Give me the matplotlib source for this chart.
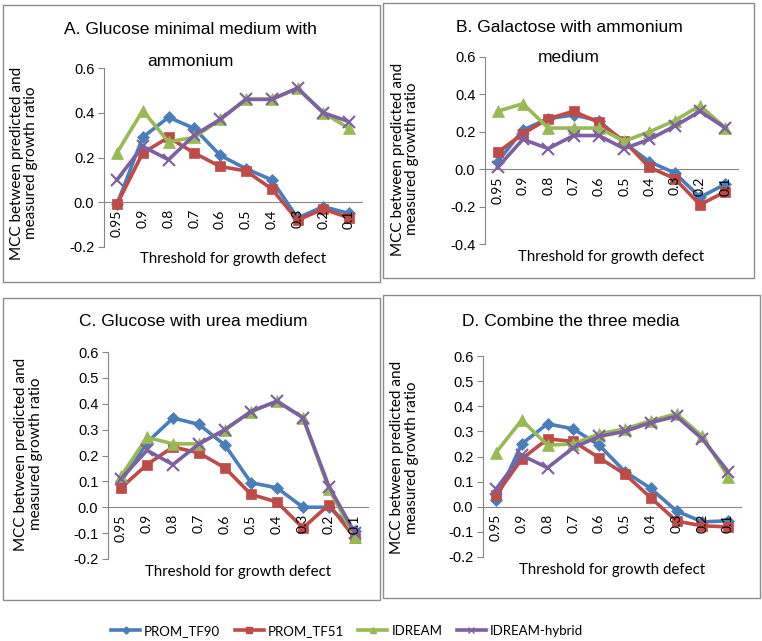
import matplotlib
matplotlib.use("Agg")
import matplotlib.pyplot as plt
from matplotlib.patches import Rectangle
from matplotlib.lines import Line2D

thresholds = ["0.95", "0.9", "0.8", "0.7", "0.6", "0.5", "0.4", "0.3", "0.2", "0.1"]
series_names = ["PROM_TF90", "PROM_TF51", "IDREAM", "IDREAM-hybrid"]

# Panel A: Glucose minimal medium with ammonium
a_prom90 = [-0.01, 0.29, 0.38, 0.33, 0.21, 0.15, 0.10, -0.07, -0.02, -0.05]
a_prom51 = [-0.01, 0.22, 0.29, 0.22, 0.16, 0.14, 0.06, -0.08, -0.03, -0.07]
a_idream = [0.22, 0.41, 0.27, 0.29, 0.37, 0.46, 0.46, 0.51, 0.40, 0.33]
a_hybrid = [0.10, 0.25, 0.19, 0.30, 0.37, 0.46, 0.46, 0.51, 0.40, 0.36]

# Panel B: Galactose with ammonium medium
b_prom90 = [0.04, 0.21, 0.27, 0.29, 0.26, 0.14, 0.04, -0.02, -0.15, -0.08]
b_prom51 = [0.09, 0.19, 0.27, 0.31, 0.25, 0.15, 0.01, -0.05, -0.19, -0.12]
b_idream = [0.31, 0.35, 0.22, 0.22, 0.22, 0.15, 0.20, 0.26, 0.34, 0.22]
b_hybrid = [0.01, 0.16, 0.11, 0.18, 0.18, 0.11, 0.16, 0.23, 0.31, 0.22]

# Panel C: Glucose with urea medium
c_prom90 = [0.10, 0.25, 0.345, 0.32, 0.24, 0.095, 0.075, 0.00, 0.00, -0.09]
c_prom51 = [0.075, 0.165, 0.233, 0.21, 0.152, 0.05, 0.02, -0.08, 0.01, -0.12]
c_idream = [0.12, 0.27, 0.245, 0.245, 0.30, 0.37, 0.41, 0.346, 0.07, -0.115]
c_hybrid = [0.11, 0.22, 0.165, 0.245, 0.30, 0.37, 0.41, 0.346, 0.08, -0.10]

# Panel D: Combine the three media
d_prom90 = [0.027, 0.25, 0.33, 0.31, 0.245, 0.14, 0.073, -0.017, -0.06, -0.056]
d_prom51 = [0.046, 0.19, 0.27, 0.26, 0.195, 0.13, 0.036, -0.057, -0.076, -0.08]
d_idream = [0.215, 0.345, 0.245, 0.25, 0.29, 0.31, 0.342, 0.37, 0.28, 0.12]
d_hybrid = [0.07, 0.205, 0.155, 0.235, 0.28, 0.30, 0.335, 0.36, 0.27, 0.14]

colors = ["#4A7EBB", "#BE4B48", "#98B954", "#7D60A0"]
markers = ["D", "s", "^", "x"]
msizes = [6, 7.5, 8, 8]

W, H = 762, 641
fig = plt.figure(figsize=(W / 100, H / 100), dpi=100)
fig.patch.set_facecolor("white")

def fx(px):
    return px / W

def fy(py):
    return 1 - py / H

# panel borders
for (x0, y0, x1, y1) in [(3, 5, 380, 282), (383, 3, 754, 278), (3, 298, 380, 600), (383, 295, 760, 598)]:
    fig.patches.append(Rectangle((fx(x0), fy(y1)), fx(x1 - x0), (y1 - y0) / H,
                                 transform=fig.transFigure, fill=False,
                                 edgecolor="#8C8C8C", linewidth=1.0))

panels = [
    dict(rect=(104, 68, 362, 247), data=[a_prom90, a_prom51, a_idream, a_hybrid],
         ylim=(-0.2, 0.6), step=0.2, nt=5,
         title=[("A. Glucose minimal medium with", 190, 30), ("ammonium", 190, 61)],
         ylab=(-0.254, 0.469), xlab=-0.067),
    dict(rect=(485, 57, 738, 244), data=[b_prom90, b_prom51, b_idream, b_hybrid],
         ylim=(-0.4, 0.6), step=0.2, nt=6,
         title=[("B. Galactose with ammonium", 569, 28), ("medium", 569, 58)],
         ylab=(-0.259, 0.455), xlab=-0.07),
    dict(rect=(108, 352, 368, 559), data=[c_prom90, c_prom51, c_idream, c_hybrid],
         ylim=(-0.2, 0.6), step=0.1, nt=9,
         title=[("C. Glucose with urea medium", 193, 322)],
         ylab=(-0.25, 0.507), xlab=-0.063),
    dict(rect=(483, 356, 741, 557), data=[d_prom90, d_prom51, d_idream, d_hybrid],
         ylim=(-0.2, 0.6), step=0.1, nt=9,
         title=[("D. Combine the three media", 571, 322)],
         ylab=(-0.248, 0.495), xlab=-0.065),
]

axis_gray = "#868686"
lab_font = ["Lato", "DejaVu Sans"]
tick_font = ["Liberation Sans", "DejaVu Sans"]

for p in panels:
    l, t, r, b = p["rect"]
    ax = fig.add_axes([fx(l), fy(b), fx(r - l), (b - t) / H])
    ax.spines["bottom"].set_position(("data", 0))
    x = list(range(len(thresholds)))
    for vals, c, m, ms in zip(p["data"], colors, markers, msizes):
        ax.plot(x, vals, color=c, linewidth=2.6, marker=m, markersize=ms,
                markerfacecolor=c, markeredgecolor=c,
                markeredgewidth=1.5 if m == "x" else 0.5, zorder=3)
    ax.set_xlim(-0.5, len(thresholds) - 0.5)
    ax.set_ylim(*p["ylim"])
    yt = [round(p["ylim"][0] + i * p["step"], 2) for i in range(p["nt"])]
    ax.set_yticks(yt)
    ax.set_yticklabels(["%.1f" % v for v in yt], fontsize=10.5, family=tick_font)
    ax.set_xticks(x)
    ax.set_xticklabels(thresholds, rotation=90, fontsize=10, family=lab_font,
                       va="top", ha="center")
    for s in ["top", "right"]:
        ax.spines[s].set_visible(False)
    ax.spines["bottom"].set_color(axis_gray)
    ax.spines["left"].set_color(axis_gray)
    ax.spines["bottom"].set_zorder(1)
    ax.spines["left"].set_zorder(1)
    ax.xaxis.set_zorder(4)
    ax.tick_params(axis="x", length=0, pad=5)
    ax.tick_params(axis="y", length=4, color=axis_gray, direction="out", pad=3)
    ax.set_ylabel("MCC between predicted and\nmeasured growth ratio", fontsize=11,
                  family=lab_font, linespacing=1.05)
    ax.yaxis.set_label_coords(*p["ylab"])
    ax.set_xlabel("Threshold for growth defect", fontsize=10.8, family=lab_font)
    ax.xaxis.set_label_coords(0.5, p["xlab"])
    ax.xaxis.label.set_va("center")
    ax.patch.set_alpha(0)
    for txt, cx, cy in p["title"]:
        fig.text(fx(cx), fy(cy), txt, ha="center", va="center", fontsize=12.5,
                 family=tick_font)

handles = [Line2D([0], [0], color=c, marker=m, markersize=ms * 0.6, linewidth=2.6,
                  markerfacecolor=c, markeredgecolor=c)
           for c, m, ms in zip(colors, markers, msizes)]
fig.legend(handles, series_names, loc="center", bbox_to_anchor=(fx(347), fy(631)),
           ncol=4, frameon=False, prop={"family": lab_font, "size": 9.5},
           handlelength=2.2, handletextpad=0.3, columnspacing=1.1)

fig.savefig("out.png", dpi=100, facecolor="white")
